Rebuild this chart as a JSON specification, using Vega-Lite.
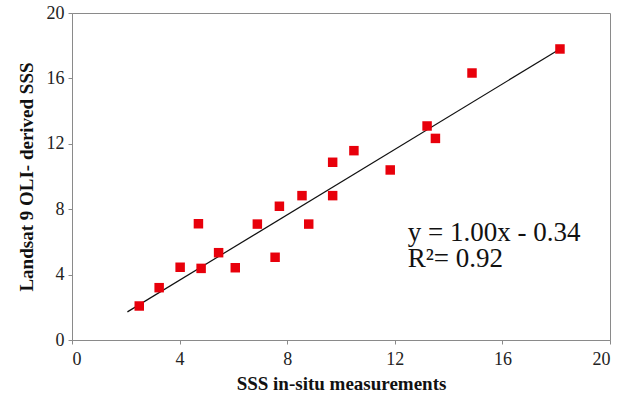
{
  "$schema": "https://vega.github.io/schema/vega-lite/v6.json",
  "width": 538,
  "height": 327,
  "autosize": {"type": "none"},
  "padding": {"left": 72, "top": 13, "right": 22, "bottom": 59},
  "background": "white",
  "config": {
    "view": {"stroke": "#8a8a8a", "strokeWidth": 1},
    "font": "Liberation Serif",
    "axis": {
      "grid": false,
      "domainColor": "#8a8a8a",
      "tickColor": "#8a8a8a",
      "tickSize": 4,
      "labelFont": "Liberation Serif",
      "labelFontSize": 18,
      "labelColor": "#222222",
      "titleFont": "Liberation Serif",
      "titleFontSize": 19,
      "titleFontWeight": "bold",
      "titleColor": "#111111"
    }
  },
  "datasets": {
    "pts": [
      {"insitu": 2.50, "landsat": 2.08},
      {"insitu": 3.24, "landsat": 3.20},
      {"insitu": 4.02, "landsat": 4.45},
      {"insitu": 4.70, "landsat": 7.11},
      {"insitu": 4.80, "landsat": 4.38},
      {"insitu": 5.45, "landsat": 5.34},
      {"insitu": 6.07, "landsat": 4.42},
      {"insitu": 6.89, "landsat": 7.09},
      {"insitu": 7.55, "landsat": 5.06},
      {"insitu": 7.71, "landsat": 8.18},
      {"insitu": 8.55, "landsat": 8.83},
      {"insitu": 8.80, "landsat": 7.09},
      {"insitu": 9.69, "landsat": 8.83},
      {"insitu": 9.69, "landsat": 10.87},
      {"insitu": 10.48, "landsat": 11.58},
      {"insitu": 11.83, "landsat": 10.40},
      {"insitu": 13.20, "landsat": 13.09},
      {"insitu": 13.51, "landsat": 12.33},
      {"insitu": 14.87, "landsat": 16.33},
      {"insitu": 18.14, "landsat": 17.80}
    ],
    "fit": [
      {"insitu": 2.06, "landsat": 1.72},
      {"insitu": 18.14, "landsat": 17.80}
    ],
    "labels": [
      {"insitu": 12.48, "landsat": 6.06, "text": "y = 1.00x - 0.34"},
      {"insitu": 12.48, "landsat": 4.47, "text": "R²= 0.92"}
    ]
  },
  "encoding": {
    "x": {
      "field": "insitu",
      "type": "quantitative",
      "scale": {"domain": [0, 20], "nice": false, "zero": false},
      "axis": {"values": [0, 4, 8, 12, 16, 20], "title": "SSS in-situ measurements", "labelPadding": 6, "titlePadding": 6}
    },
    "y": {
      "field": "landsat",
      "type": "quantitative",
      "scale": {"domain": [0, 20], "nice": false, "zero": false},
      "axis": {"values": [0, 4, 8, 12, 16, 20], "title": "Landsat 9 OLI- derived SSS", "labelPadding": 4, "titlePadding": 10}
    }
  },
  "layer": [
    {
      "data": {"name": "fit"},
      "mark": {"type": "line", "color": "#111111", "strokeWidth": 1.2}
    },
    {
      "data": {"name": "pts"},
      "mark": {"type": "square", "filled": true, "color": "#e8000b", "size": 90, "opacity": 1}
    },
    {
      "data": {"name": "labels"},
      "mark": {"type": "text", "align": "left", "baseline": "alphabetic", "fontSize": 27, "font": "Liberation Serif", "color": "#111111"},
      "encoding": {"text": {"field": "text"}}
    }
  ]
}
